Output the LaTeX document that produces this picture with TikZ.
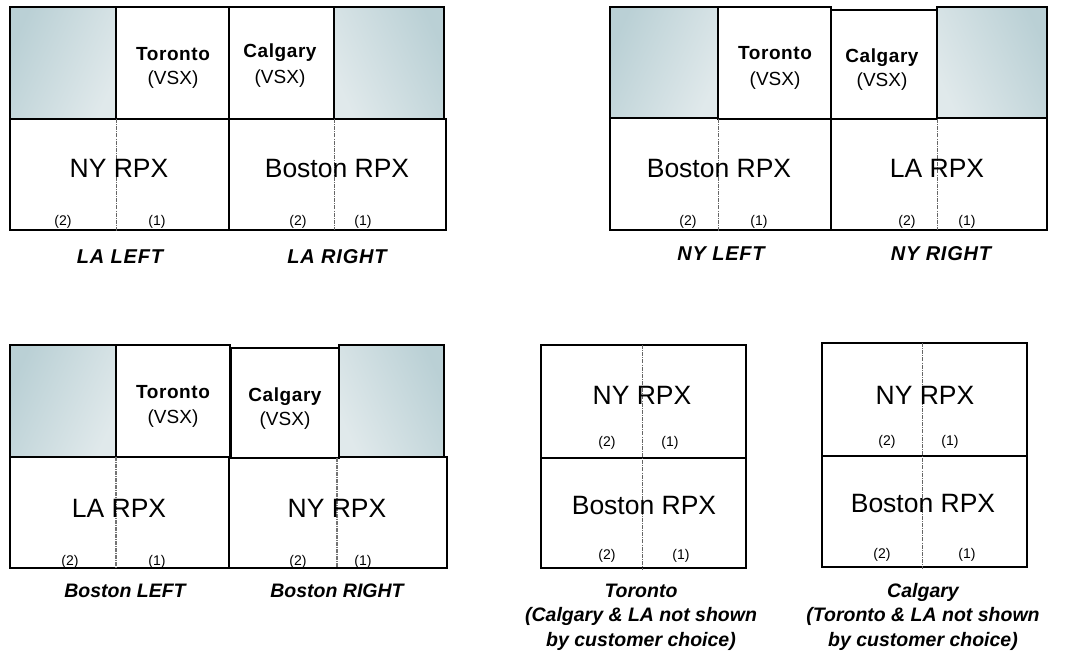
\documentclass[tikz,border=0pt]{standalone}
\usepackage{fontspec}
\setmainfont{Liberation Sans}
\definecolor{shdark}{RGB}{186,208,213}
\definecolor{shlight}{RGB}{224,233,235}
\tikzset{
  frame/.style={draw=black, line width=1.5pt},
  wbox/.style={draw=black, line width=1.5pt, fill=white},
  shadeleft/.style={left color=shdark, right color=shlight, shading angle=65},
  shaderight/.style={left color=shdark, right color=shlight, shading angle=-65},
  divider/.style={draw=black!60, line width=0.6pt, dash pattern=on 4pt off 1.2pt on 0.8pt off 1.2pt},
  thickdivider/.style={draw=black!55, line width=1.6pt, dash pattern=on 4pt off 1pt on 1pt off 1pt},
  rpx/.style={anchor=base, inner sep=0pt, font=\fontsize{26.5}{28}\selectfont},
  city/.style={anchor=base, inner sep=0pt, font=\bfseries\fontsize{19}{20}\selectfont\addfontfeature{LetterSpace=3}},
  vsx/.style={anchor=base, inner sep=0pt, font=\fontsize{19}{20}\selectfont},
  port/.style={anchor=base, inner sep=0pt, font=\fontsize{14}{15}\selectfont},
  caption/.style={anchor=base, inner sep=0pt, align=center, font=\bfseries\itshape\fontsize{19.5}{24.5}\selectfont},
  shortcap/.style={anchor=base, inner sep=0pt, font=\bfseries\itshape\fontsize{20}{24}\selectfont\addfontfeature{LetterSpace=4}}
}
\begin{document}
\begin{tikzpicture}[x=1pt,y=-1pt]
\useasboundingbox (0,0) rectangle (1086,652);
\fill[white] (0,0) rectangle (1086,652);

% ===== Panel 1: LA =====
\fill[shadeleft] (10,7) rectangle (116,119);
\fill[shaderight] (334,7) rectangle (444,119);
\draw[frame] (10,7) rectangle (116,119);
\draw[frame] (334,7) rectangle (444,119);
\draw[wbox] (116,7) rectangle (229,119);
\draw[wbox] (229,7) rectangle (334,119);
\draw[wbox] (10,119) rectangle (229,230);
\draw[wbox] (229,119) rectangle (446,230);
\draw[divider] (116,119) -- (116,232);
\draw[divider] (334,119) -- (334,230);
\node[city] (p1tor) at (173,61) {Toronto};
\node[vsx] (p1torv) at (173,85) {(VSX)};
\node[city] (p1cal) at (280,58) {Calgary};
\node[vsx] (p1calv) at (280,84) {(VSX)};
\node[rpx] (p1ny) at (119,178) {NY RPX};
\node[rpx] (p1bos) at (337,178) {Boston RPX};
\node[port] (p1a) at (63,226) {(2)};
\node[port] (p1b) at (157,226) {(1)};
\node[port] (p1c) at (298,226) {(2)};
\node[port] (p1d) at (363,226) {(1)};
\node[shortcap] (p1l) at (120,263) {LA LEFT};
\node[shortcap] (p1r) at (337,263) {LA RIGHT};

% ===== Panel 2: NY =====
\fill[shadeleft] (610,7) rectangle (718,118);
\fill[shaderight] (937,7) rectangle (1047,118);
\draw[frame] (610,7) rectangle (718,118);
\draw[frame] (937,7) rectangle (1047,118);
\draw[wbox] (610,118) rectangle (831,230);
\draw[wbox] (831,118) rectangle (1047,230);
\draw[wbox] (718,7) rectangle (831,119);
\draw[wbox] (831,10) rectangle (937,119);
\draw[divider] (718,119) -- (718,232);
\draw[divider] (937,119) -- (937,230);
\node[city] (p2tor) at (775,60) {Toronto};
\node[vsx] (p2torv) at (775,86) {(VSX)};
\node[city] (p2cal) at (882,63) {Calgary};
\node[vsx] (p2calv) at (882,87) {(VSX)};
\node[rpx] (p2bos) at (719,178) {Boston RPX};
\node[rpx] (p2la) at (937,178) {LA RPX};
\node[port] (p2a) at (688,226) {(2)};
\node[port] (p2b) at (759,226) {(1)};
\node[port] (p2c) at (907,226) {(2)};
\node[port] (p2d) at (967,226) {(1)};
\node[shortcap] (p2l) at (721,260) {NY LEFT};
\node[shortcap] (p2r) at (941,260) {NY RIGHT};

% ===== Panel 3: Boston =====
\fill[shadeleft] (10,345) rectangle (116,457);
\fill[shaderight] (339,345) rectangle (444,457);
\draw[frame] (10,345) rectangle (116,457);
\draw[frame] (339,345) rectangle (444,457);
\draw[wbox] (10,457) rectangle (229,568);
\draw[wbox] (229,457) rectangle (447,568);
\draw[wbox] (116,345) rectangle (230,457);
\draw[wbox] (231,348) rectangle (339,458);
\draw[thickdivider] (116,457) -- (116,569);
\draw[thickdivider] (337,458) -- (337,568);
\node[city] (p3tor) at (173,398) {Toronto};
\node[vsx] (p3torv) at (173,423) {(VSX)};
\node[city] (p3cal) at (285,401) {Calgary};
\node[vsx] (p3calv) at (285,425) {(VSX)};
\node[rpx] (p3la) at (119,517) {LA RPX};
\node[rpx] (p3ny) at (337,517) {NY RPX};
\node[port] (p3a) at (70,565) {(2)};
\node[port] (p3b) at (157,565) {(1)};
\node[port] (p3c) at (298,565) {(2)};
\node[port] (p3d) at (363,565) {(1)};
\node[caption] (p3l) at (125,597) {Boston LEFT};
\node[caption] (p3r) at (337,597) {Boston RIGHT};

% ===== Panel 4: Toronto =====
\draw[wbox] (541,345) rectangle (746,458);
\draw[wbox] (541,458) rectangle (746,568);
\draw[divider] (642,345) -- (642,570);
\node[rpx] (p4ny) at (642,404) {NY RPX};
\node[port] (p4a) at (607,446) {(2)};
\node[port] (p4b) at (670,446) {(1)};
\node[rpx] (p4bos) at (644,514) {Boston RPX};
\node[port] (p4c) at (607,559) {(2)};
\node[port] (p4d) at (681,559) {(1)};
\node[caption] (p4cap) at (641,646) {Toronto\\(Calgary \& LA not shown\\by customer choice)};

% ===== Panel 5: Calgary =====
\draw[wbox] (822,343) rectangle (1027,456);
\draw[wbox] (822,456) rectangle (1027,567);
\draw[divider] (922,343) -- (922,569);
\node[rpx] (p5ny) at (925,404) {NY RPX};
\node[port] (p5a) at (887,445) {(2)};
\node[port] (p5b) at (950,445) {(1)};
\node[rpx] (p5bos) at (923,512) {Boston RPX};
\node[port] (p5c) at (882,558) {(2)};
\node[port] (p5d) at (967,558) {(1)};
\node[caption] (p5cap) at (923,646) {Calgary\\(Toronto \& LA not shown\\by customer choice)};
\end{tikzpicture}
\end{document}
